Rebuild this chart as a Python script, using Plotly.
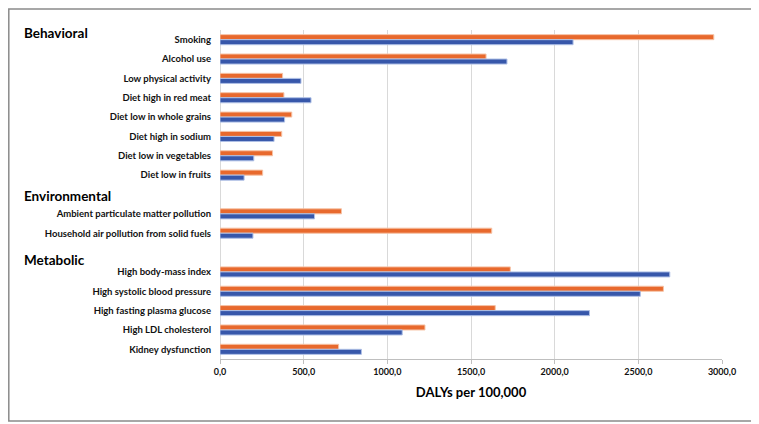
import plotly.graph_objects as go

categories = [
    "Smoking", "Alcohol use", "Low physical activity", "Diet high in red meat",
    "Diet low in whole grains", "Diet high in sodium", "Diet low in vegetables",
    "Diet low in fruits", " ",
    "Ambient particulate matter pollution", "Household air pollution from solid fuels", "  ",
    "High body-mass index", "High systolic blood pressure", "High fasting plasma glucose",
    "High LDL cholesterol", "Kidney dysfunction",
]
orange_values = [2951, 1590, 374, 382, 429, 369, 314, 255, None,
                 726, 1624, None,
                 1735, 2650, 1645, 1225, 709]
blue_values = [2110, 1715, 484, 544, 386, 323, 202, 144, None,
               565, 197, None,
               2688, 2512, 2208, 1089, 845]
group_headers = ["Behavioral", "Environmental", "Metabolic"]
x_tick_values = [0, 500, 1000, 1500, 2000, 2500, 3000]
x_title = "DALYs per 100,000"

FONT = "Lato"
OFF = 8  # page body margin
PLOT_L, PLOT_R, PLOT_T, PLOT_B = 220 - OFF, 722 - OFF, 30 - OFF, 359 - OFF
W, H = 759 - OFF, 424 - OFF

def px_x(p):
    return (p - OFF - PLOT_L) / (PLOT_R - PLOT_L)

def px_y(p):
    return (PLOT_B - (p - OFF)) / (PLOT_B - PLOT_T)

fig = go.Figure()
fig.add_trace(go.Bar(
    y=categories, x=orange_values, orientation="h",
    marker=dict(color="#E8692D", line=dict(color="#F6C3A6", width=1)),
    name="Series 1", showlegend=False,
))
fig.add_trace(go.Bar(
    y=categories, x=blue_values, orientation="h",
    marker=dict(color="#3757AA", line=dict(color="#AFC0E6", width=1)),
    name="Series 2", showlegend=False,
))

header_y_px = [33, 196, 260]
annotations = []
for txt, yp in zip(group_headers, header_y_px):
    annotations.append(dict(
        text="<b>%s</b>" % txt, xref="paper", yref="paper",
        x=px_x(22), y=px_y(yp), xanchor="left", yanchor="middle",
        showarrow=False, font=dict(family=FONT, size=13.5, color="#000000"),
    ))

fig.update_layout(
    width=W, height=H,
    margin=dict(l=PLOT_L, r=W - PLOT_R, t=PLOT_T, b=H - PLOT_B),
    paper_bgcolor="white", plot_bgcolor="white",
    barmode="group", bargap=0.48, bargroupgap=0,
    separators=", ",
    annotations=annotations,
    shapes=[dict(type="rect", xref="paper", yref="paper",
                 x0=px_x(8.8), x1=px_x(752), y0=px_y(421), y1=px_y(9),
                 line=dict(color="#8a8a8a", width=1.5), fillcolor="rgba(0,0,0,0)")],
    font=dict(family=FONT, color="#111111"),
)
fig.update_xaxes(
    range=[0, 3000], tickvals=x_tick_values, tickformat=".1f",
    showgrid=True, gridcolor="#d9d9d9", gridwidth=1,
    zeroline=True, zerolinecolor="#d9d9d9", zerolinewidth=1,
    showline=True, linecolor="#bfbfbf", linewidth=1,
    ticks="outside", ticklen=4, tickcolor="#bfbfbf",
    tickfont=dict(family=FONT, size=9, color="#111111", weight="bold"),
    title=dict(text="<b>%s</b>" % x_title, font=dict(family=FONT, size=13, color="#000000"), standoff=12),
)
fig.update_yaxes(
    categoryorder="array", categoryarray=categories, autorange="reversed",
    showgrid=False, zeroline=False, showline=False, ticks="",
    ticklabelstandoff=8,
    tickfont=dict(family=FONT, size=9.5, color="#111111", weight="bold"),
)

fig.write_html("out.html")
